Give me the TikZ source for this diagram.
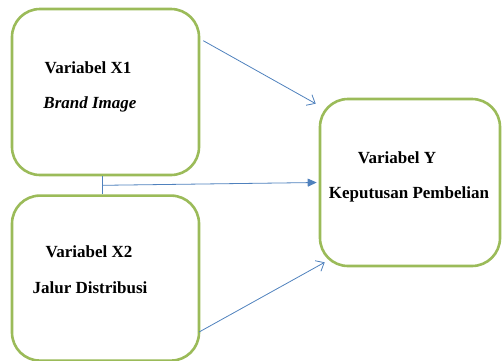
\documentclass[tikz,border=0pt]{standalone}
\usepackage{fontspec}
\setmainfont{Liberation Serif}
\usepackage{tikz}
\usetikzlibrary{arrows.meta, positioning, calc}
\definecolor{BoxGreen}{HTML}{9BBB59}
\definecolor{LineBlue}{HTML}{4F81BD}
\tikzset{
  % Box styles
  varbox/.style={rectangle, rounded corners=28pt, draw=BoxGreen, line width=2.6pt, fill=white, minimum width=187pt, minimum height=166pt},
  % Text styles
  vartext/.style={anchor=base, inner sep=0pt, font=\bfseries\fontsize{17}{20}\selectfont},
  % Arrow styles
  openarrow/.style={-{Straight Barb[length=7pt, width=12pt]}, LineBlue, line width=0.8pt},
  fillarrow/.style={-{Triangle[length=9pt, width=8pt]}, LineBlue, line width=0.8pt},
  linkline/.style={LineBlue, line width=0.8pt}
}
\begin{document}
\begin{tikzpicture}[x=1pt, y=-1pt]
  \useasboundingbox (0,0) rectangle (502,360);

  % Independent variables
  \node[varbox] (x1) at (105.5,92) {};
  \node[varbox, below=18pt of x1, minimum height=165pt] (x2) {};

  % Dependent variable
  \node[varbox, minimum width=180pt, minimum height=167pt] (y) at (410,182.5) {};

  % Labels
  \node[vartext] (x1title) at (88,73) {Variabel X1};
  \node[vartext] (x1name) at (90,108) {\textit{Brand Image}};
  \node[vartext] (x2title) at (89,257) {Variabel X2};
  \node[vartext] (x2name) at (90,293) {Jalur Distribusi};
  \node[vartext] (ytitle) at (397,163) {Variabel Y};
  \node[vartext] (yname) at (409,198) {Keputusan Pembelian};

  % Arrows
  \coordinate (mid) at ($([xshift=-3pt]x1.south)!0.5!([xshift=-3pt]x2.north)$);
  \draw[linkline] ([xshift=-3pt]x1.south) -- ([xshift=-3pt]x2.north);
  \draw[fillarrow] (mid) -- ([xshift=-2pt]y.west);
  \draw[openarrow] ([xshift=3pt, yshift=-33pt]x1.north east) -- ([xshift=-3pt, yshift=-6pt]y.north west);
  \draw[openarrow] ([xshift=-1pt, yshift=30pt]x2.south east) -- ([xshift=6pt, yshift=5pt]y.south west);
\end{tikzpicture}
\end{document}
